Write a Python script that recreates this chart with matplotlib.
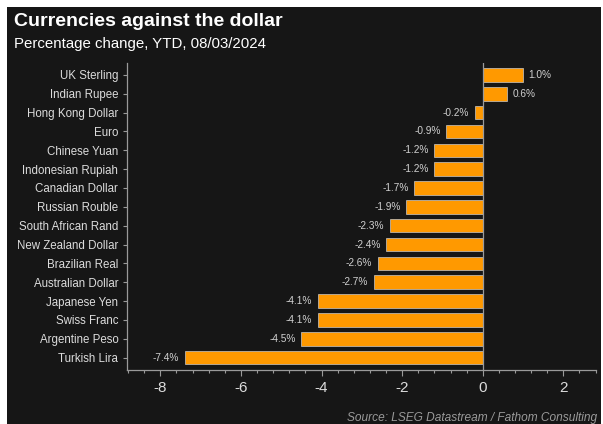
import matplotlib
matplotlib.use("Agg")
import matplotlib.pyplot as plt
import numpy as np
from matplotlib.patches import Rectangle
from matplotlib.ticker import MultipleLocator

plt.rcParams["font.family"] = ["Liberation Sans", "DejaVu Sans"]

currencies = [
    "UK Sterling", "Indian Rupee", "Hong Kong Dollar", "Euro", "Chinese Yuan",
    "Indonesian Rupiah", "Canadian Dollar", "Russian Rouble", "South African Rand",
    "New Zealand Dollar", "Brazilian Real", "Australian Dollar", "Japanese Yen",
    "Swiss Franc", "Argentine Peso", "Turkish Lira",
]
changes = [1.0, 0.6, -0.2, -0.9, -1.2, -1.2, -1.7, -1.9, -2.3, -2.4, -2.6, -2.7,
           -4.1, -4.1, -4.5, -7.4]
x_ticks = [-8, -6, -4, -2, 0, 2]

BG = "#161616"
BAR = "#ff9900"
TEXT = "#dcdcdc"
SPINE = "#9a9a9a"

W, H = 603, 424
fig = plt.figure(figsize=(W / 100, H / 100), dpi=100, facecolor="white")
fig.patches.append(Rectangle((7 / W, 0), (601 - 7) / W, (H - 7) / H,
                             transform=fig.transFigure, facecolor=BG,
                             edgecolor="none", zorder=-10))

ax = fig.add_axes([127.3 / W, 54 / H, (596 - 127.3) / W, (361.5 - 54) / H])
ax.set_facecolor(BG)

y = np.arange(len(currencies))[::-1]
ax.barh(y, changes, height=0.72, color=BAR, edgecolor="#c8c8c8", linewidth=0.5,
        zorder=3)

for yi, v in zip(y, changes):
    ax.annotate(f"{v:.1f}%", (v, yi), xytext=(4 if v >= 0 else -4, 0),
                textcoords="offset points", va="center",
                ha="left" if v >= 0 else "right", fontsize=7.3, color="#d0d0d0")

ax.axvline(0, color=SPINE, lw=0.9, zorder=4)
ax.set_xlim(-8.82, 2.81)
ax.set_ylim(-0.66, len(currencies) - 0.34)
ax.set_yticks(y)
ax.set_yticklabels(currencies)
ax.set_xticks(x_ticks)
ax.set_xticklabels([str(t) for t in x_ticks])
ax.xaxis.set_minor_locator(MultipleLocator(0.4))

for side in ("top", "right"):
    ax.spines[side].set_visible(False)
for side in ("left", "bottom"):
    ax.spines[side].set_color(SPINE)
    ax.spines[side].set_linewidth(0.9)

ax.tick_params(axis="y", colors=SPINE, labelcolor=TEXT, labelsize=8.3, length=3,
               width=0.8, pad=3.5)
ax.tick_params(axis="x", which="major", colors=SPINE, labelcolor=TEXT,
               labelsize=11, length=4, width=0.8, pad=4)
ax.tick_params(axis="x", which="minor", colors=SPINE, length=2.5, width=0.8)

fig.text(14 / W, 1 - 21 / H, "Currencies against the dollar", fontsize=14,
         fontweight="bold", color="white", va="center", ha="left")
fig.text(14 / W, 1 - 44 / H, "Percentage change, YTD, 08/03/2024", fontsize=10.8,
         color="white", va="center", ha="left")
fig.text(597 / W, 1 - 418 / H, "Source: LSEG Datastream / Fathom Consulting",
         fontsize=8.6, style="italic", color="#9a9a9a", va="center", ha="right")

fig.savefig("out.png", dpi=100, facecolor=fig.get_facecolor())
